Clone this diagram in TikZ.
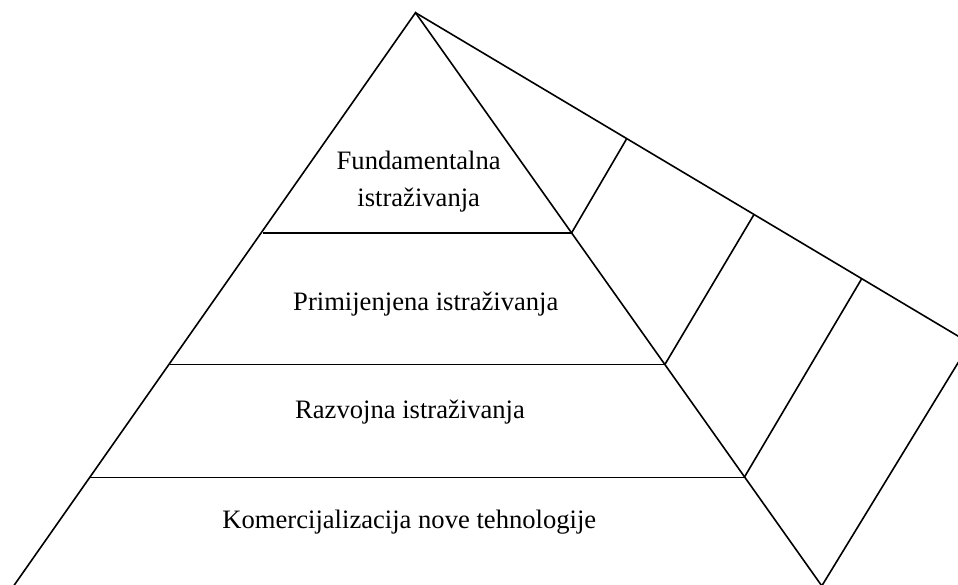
\documentclass[tikz,border=0pt]{standalone}
\usepackage{fontspec}
\setmainfont{Liberation Serif}
\begin{document}
\begin{tikzpicture}[x=1pt,y=-1pt,
  edge/.style={line width=1.6pt,line cap=butt,line join=miter},
  lbl/.style={anchor=base,inner sep=0pt,font=\fontsize{26.6}{37.4}\selectfont,align=center}]
\useasboundingbox (0,0) rectangle (958,584);
% pyramid points
\coordinate (A) at (415.5,12.7);
\coordinate (L) at (12.2,588);
\coordinate (V) at (821.8,585.9);
\coordinate (C) at (970,343.2);
\coordinate (P1) at (571.7,232.7);
\coordinate (P2) at (665,364.3);
\coordinate (P3) at (744.3,477.3);
\coordinate (H1) at (262.7,232.7);
\coordinate (H2) at (169.8,364.3);
\coordinate (H3) at (90,477.3);
\coordinate (Q1) at (626.7,138.7);
\coordinate (Q2) at (754,214.5);
\coordinate (Q3) at (861.7,278.7);
% outline
\draw[edge] (L) -- (A) -- (V);
\draw[edge] (A) -- (C) -- (V);
% layers
\draw[edge] (H1) -- (P1);
\draw[edge] (H2) -- (P2);
\draw[edge] (H3) -- (P3);
% side face divisions
\draw[edge] (P1) -- (Q1);
\draw[edge] (P2) -- (Q2);
\draw[edge] (P3) -- (Q3);
% labels
\node[lbl] (t1) at (418.7,206.7) {Fundamentalna\\istraživanja};
\node[lbl] (t2) at (425.8,310.7) {Primijenjena istraživanja};
\node[lbl] (t3) at (410,418.3) {Razvojna istraživanja};
\node[lbl] (t4) at (409.3,528.3) {Komercijalizacija nove tehnologije};
\end{tikzpicture}
\end{document}
